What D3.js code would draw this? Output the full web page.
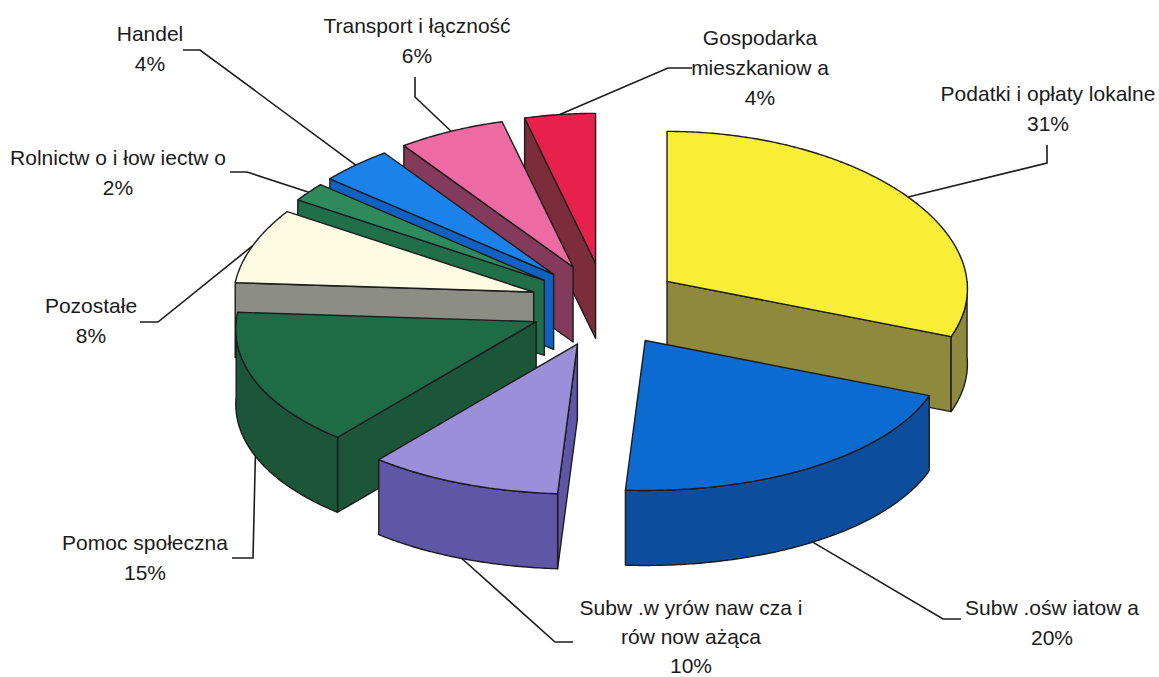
<!DOCTYPE html>
<html lang="pl">
<head>
    <meta charset="UTF-8">
    <title>Struktura dochodów</title>
    <style>
        body {
            margin: 0;
            background: #fff;
        }
        svg {
            display: block;
            font-family: 'Liberation Sans', Arial, sans-serif;
        }
        .label {
            font-size: 21px;
            fill: #1a1a1a;
        }
        .face {
            stroke: #1c1c1c;
            stroke-width: 1.4;
            stroke-linejoin: round;
        }
        .leader {
            fill: none;
            stroke: #1c1c1c;
            stroke-width: 1.6;
        }
    </style>
</head>
<body>
    <svg id="chart"></svg>

    <script src="https://d3js.org/d3.v7.min.js"></script>
    <script>
        // Data (order = clockwise from 12 o'clock)
        const categories = [
            'Podatki i opłaty lokalne',
            'Subw .oświatowa',
            'Subw .wyrównawcza i równoważąca',
            'Pomoc społeczna',
            'Pozostałe',
            'Rolnictwo i łowiectwo',
            'Handel',
            'Transport i łączność',
            'Gospodarka mieszkaniowa'
        ];
        const values = [31, 20, 10, 15, 8, 2, 4, 6, 4];
        // label text as printed on the chart, one entry per line
        const labelText = [
            ['Podatki i opłaty lokalne'],
            ['Subw .ośw iatow a'],
            ['Subw .w yrów naw cza i', 'rów now ażąca'],
            ['Pomoc społeczna'],
            ['Pozostałe'],
            ['Rolnictw o i łow iectw o'],
            ['Handel'],
            ['Transport i łączność'],
            ['Gospodarka', 'mieszkaniow a']
        ];

        // Colours: top face and side walls
        const topColors = ['#f8ee38', '#0b6bd0', '#9a8fd8', '#1f6b46', '#fdfbe2', '#2e8a5c', '#1a82ea', '#ee6aa2', '#e8214c'];
        const wallColors = ['#8e893b', '#0c4e9c', '#5f57a6', '#1b5639', '#8c8d83', '#216f48', '#0f62c2', '#843a5a', '#7c2c3a'];

        // Label layout: text centre, first line y, line gap, leader bend points (from pie outwards)
        const labelLayout = [
            { x: 1048, y: 93,  gap: 30, bend: [[1047, 163], [1047, 145]] },
            { x: 1052, y: 607, gap: 30, bend: [[943, 619], [961, 619]] },
            { x: 691,  y: 607, gap: 29, bend: [[555, 642], [573, 642]] },
            { x: 145,  y: 542, gap: 30, bend: [[253, 558], [232, 558]] },
            { x: 91,   y: 305, gap: 30, bend: [[158, 322], [140, 322]] },
            { x: 118,  y: 157, gap: 30, bend: [[247, 172], [230, 172]] },
            { x: 150,  y: 33,  gap: 30, bend: [[200, 50], [183, 50]] },
            { x: 417,  y: 25,  gap: 30, bend: [[415, 97], [415, 77]] },
            { x: 760,  y: 37,  gap: 30, bend: [[668, 68], [692, 68]] }
        ];

        const width = 1159;
        const height = 677;

        // 3D pie geometry
        const cx = 605, cy = 305;
        const rx = 300, ry = 150;
        const depth = 75;
        const explode = 75;
        const explodeTilt = 0.56;
        const persp = 0.05;

        const svg = d3.select('#chart')
            .attr('width', width)
            .attr('height', height);

        const pie = d3.pie().sort(null).value(d => d.value);
        const arcs = pie(values.map((v, i) => ({ value: v, i: i })));

        const slices = arcs.map(a => {
            const mid = (a.startAngle + a.endAngle) / 2;
            return {
                i: a.data.i,
                a0: a.startAngle,
                a1: a.endAngle,
                mid: mid,
                ax: cx + explode * Math.sin(mid),
                ay: cy - explode * explodeTilt * Math.cos(mid)
            };
        });

        // point on the rim of a slice, z pushes it down by the pie thickness
        function rim(s, a, z) {
            const v = -Math.cos(a);
            const f = 1 + persp * v;
            return [s.ax + rx * f * Math.sin(a), s.ay + ry * v + (z || 0)];
        }

        function arcPoints(s, b0, b1, z) {
            const pts = d3.range(b0, b1, 0.01).map(a => rim(s, a, z));
            pts.push(rim(s, b1, z));
            return pts;
        }

        const line = d3.line();

        function drawSlice(g, s) {
            const top = topColors[s.i];
            const wall = wallColors[s.i];
            const eps = 1e-6;

            // radial wall at start angle
            if (Math.sin(s.a0) < -eps) {
                const p = rim(s, s.a0, 0), q = rim(s, s.a0, depth);
                g.append('path').attr('class', 'face')
                    .attr('fill', wall)
                    .attr('d', line([[s.ax, s.ay], p, q, [s.ax, s.ay + depth]]) + 'Z');
            }
            // radial wall at end angle
            if (Math.sin(s.a1) > eps) {
                const p = rim(s, s.a1, 0), q = rim(s, s.a1, depth);
                g.append('path').attr('class', 'face')
                    .attr('fill', wall)
                    .attr('d', line([[s.ax, s.ay], p, q, [s.ax, s.ay + depth]]) + 'Z');
            }
            // outer curved wall (front half only)
            const b0 = Math.max(s.a0, Math.PI / 2);
            const b1 = Math.min(s.a1, Math.PI * 1.5);
            if (b0 < b1) {
                const upper = arcPoints(s, b0, b1, 0);
                const lower = arcPoints(s, b0, b1, depth).reverse();
                g.append('path').attr('class', 'face')
                    .attr('fill', wall)
                    .attr('d', line(upper.concat(lower)) + 'Z');
            }
            // top face
            g.append('path').attr('class', 'face')
                .attr('fill', top)
                .attr('d', line([[s.ax, s.ay]].concat(arcPoints(s, s.a0, s.a1, 0))) + 'Z');
        }

        const pieG = svg.append('g');
        slices.slice()
            .sort((a, b) => a.ay - b.ay)
            .forEach(s => drawSlice(pieG.append('g'), s));

        // Leader lines
        const leaderG = svg.append('g');
        slices.forEach(s => {
            const front = -Math.cos(s.mid) > 0;
            const anchor = rim(s, s.mid, front ? depth : 0);
            const pts = [anchor].concat(labelLayout[s.i].bend);
            leaderG.append('path')
                .attr('class', 'leader')
                .attr('d', line(pts));
        });

        // Labels
        const labelG = svg.append('g');
        slices.forEach(s => {
            const lay = labelLayout[s.i];
            const lines = labelText[s.i].concat([values[s.i] + '%']);
            const t = labelG.append('text')
                .attr('class', 'label')
                .attr('text-anchor', 'middle');
            lines.forEach((ln, k) => {
                t.append('tspan')
                    .attr('x', lay.x)
                    .attr('y', lay.y + k * lay.gap)
                    .attr('dy', '0.36em')
                    .text(ln);
            });
        });
    </script>
</body>
</html>
